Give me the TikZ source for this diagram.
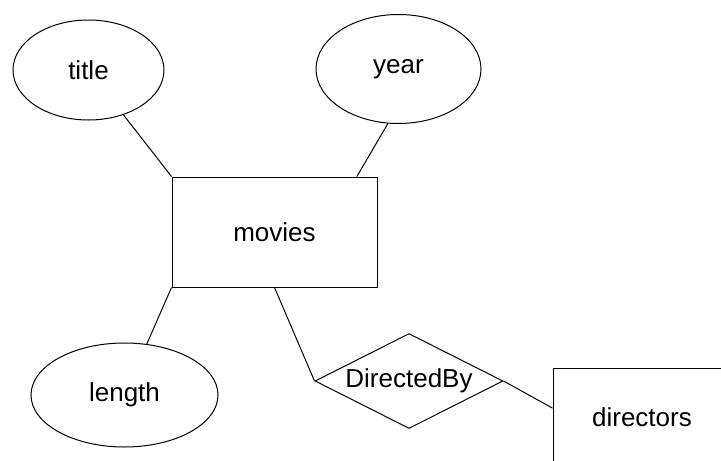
\documentclass[tikz,border=0pt]{standalone}
\usepackage{fontspec}
\setmainfont{Liberation Sans}
\usetikzlibrary{shapes.geometric,calc}
\begin{document}
\begin{tikzpicture}[x=1pt,y=-1pt,line width=1pt,
  every node/.style={font=\fontsize{26}{30}\selectfont, inner sep=0pt},
  entity/.style={draw, rectangle},
  attr/.style={draw, ellipse},
  rel/.style={draw, diamond, shape aspect=2}]
\useasboundingbox (0,0) rectangle (721,461);
\clip (0,0) rectangle (721,461);
% entities
\node[entity, minimum width=205pt, minimum height=110pt] (movies) at (274.5,232) {movies};
\node[entity, minimum width=178pt, minimum height=98pt] (directors) at (642,417) {directors};
% attributes
\node[attr, minimum width=151pt, minimum height=100pt] (title) at (88.5,70) {title};
\node[attr, minimum width=165pt, minimum height=109pt] (year) at (398.5,69) {year};
\node[attr, minimum width=187pt, minimum height=104pt] (length) at (124.5,395) {length};
% relationship
\node[rel, minimum width=188pt, minimum height=95pt] (dir) at (409,381) {DirectedBy};
% connectors
\draw (title) -- (movies.north west);
\draw (year.259) -- ($(movies.north west)!0.9!(movies.north east)$);
\draw (length) -- (movies.south west);
\draw (movies.south) -- (dir.west);
\draw (dir.east) -- ($(directors.north west)!0.41!(directors.south west)$);
\end{tikzpicture}
\end{document}
